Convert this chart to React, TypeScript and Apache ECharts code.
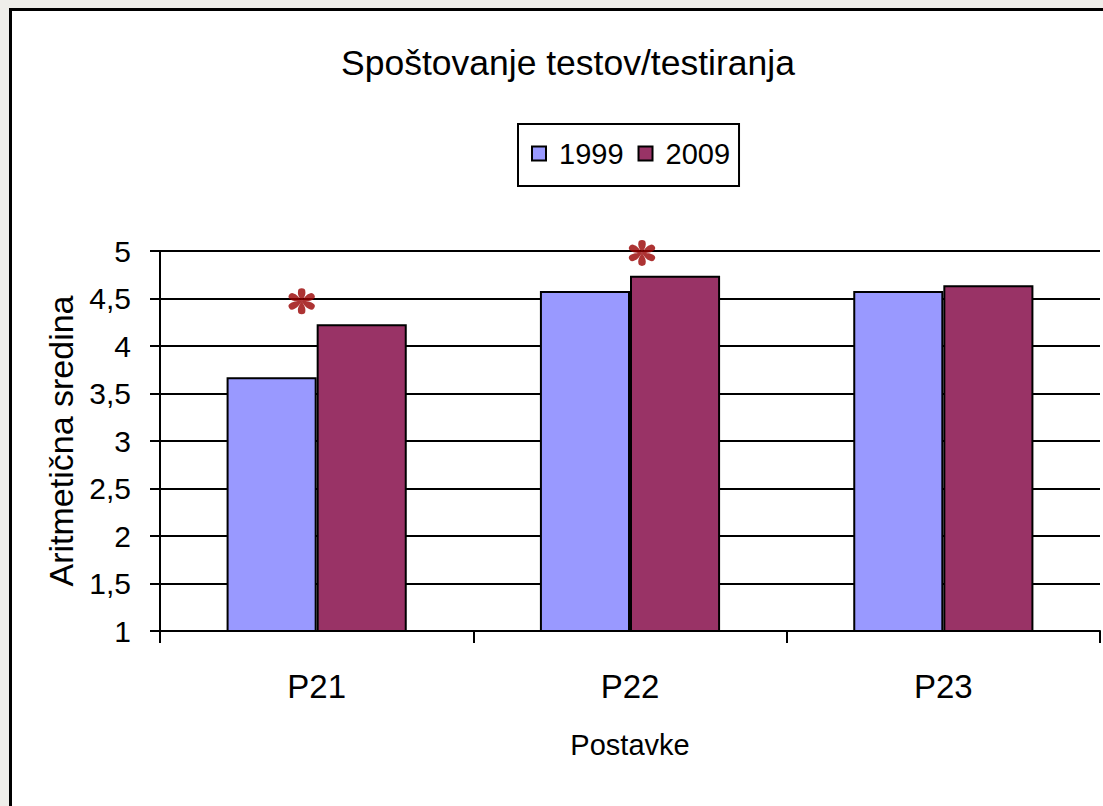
import React, { useEffect, useRef } from "react";
import * as echarts from "echarts";

const categories = ["P21", "P22", "P23"];
const series1999 = [3.67, 4.58, 4.58];
const series2009 = [4.23, 4.74, 4.64];
const seriesNames = ["1999", "2009"];
const yTicksMin = 1;
const yTicksMax = 5;
const yTickStep = 0.5;
// significance markers (asterisks) above P21 and P22
const starCategories = ["P21", "P22"];
const starValues = [4.47, 4.98];

const FONT = "'Liberation Sans', Arial, sans-serif";

function asteriskPath(): string {
  // six teardrop petals around a centre (50,50)
  let d = "";
  for (let k = 0; k < 6; k++) {
    const a = (k * Math.PI) / 3;
    const c = Math.cos(a);
    const s = Math.sin(a);
    const tr = (x: number, y: number) =>
      `${(50 + x * c - y * s).toFixed(2)},${(50 + x * s + y * c).toFixed(2)}`;
    d += `M${tr(0, 0)} C${tr(-4, -8)} ${tr(-13, -20)} ${tr(-11, -32)} A11,11 0 1 1 ${tr(11, -32)} C${tr(13, -20)} ${tr(4, -8)} ${tr(0, 0)} Z `;
  }
  return "path://" + d.trim();
}

export default function App() {
  const ref = useRef<HTMLDivElement>(null);
  useEffect(() => {
    if (!ref.current) return;
    const chart = echarts.init(ref.current, undefined, { renderer: "svg" });
    const starOffsets = [-15, 12];
    chart.setOption({
      animation: false,
      backgroundColor: "#efeeea",
      graphic: [
        {
          type: "rect",
          z: -10,
          shape: { x: 10.5, y: 9.5, width: 1200, height: 900 },
          style: { fill: "#ffffff", stroke: "#000000", lineWidth: 3 },
          silent: true,
        },
      ],
      title: {
        text: "Spoštovanje testov/testiranja",
        left: 336,
        top: 40,
        textStyle: { fontFamily: FONT, fontSize: 35.5, fontWeight: "normal", color: "#000" },
      },
      legend: {
        data: seriesNames,
        left: 518,
        top: 124,
        padding: [15, 9, 18, 13],
        borderColor: "#000",
        borderWidth: 2,
        itemGap: 14,
        itemWidth: 14,
        itemHeight: 14,
        icon: "rect",
        itemStyle: { borderColor: "#000", borderWidth: 2 },
        textStyle: { fontFamily: FONT, fontSize: 29, color: "#000", padding: [0, 0, 0, 8] },
      },
      grid: { left: 160, top: 251, right: 3, bottom: 175, containLabel: false },
      xAxis: {
        type: "category",
        data: categories,
        name: "Postavke",
        nameLocation: "middle",
        nameGap: 99,
        nameTextStyle: { fontFamily: FONT, fontSize: 29, color: "#000" },
        axisLine: { lineStyle: { color: "#000", width: 2 } },
        axisTick: { show: true, length: 12, lineStyle: { color: "#000", width: 2 } },
        axisLabel: { margin: 39, fontFamily: FONT, fontSize: 33, color: "#000" },
      },
      yAxis: {
        type: "value",
        min: yTicksMin,
        max: yTicksMax,
        interval: yTickStep,
        name: "Aritmetična sredina",
        nameLocation: "middle",
        nameGap: 82,
        nameTextStyle: { fontFamily: FONT, fontSize: 34, color: "#000" },
        axisLine: { show: true, lineStyle: { color: "#000", width: 2 } },
        axisTick: { show: true, length: 10, lineStyle: { color: "#000", width: 2 } },
        axisLabel: {
          margin: 29,
          fontFamily: FONT,
          fontSize: 30,
          color: "#000",
          formatter: (v: number) => String(v).replace(".", ","),
        },
        splitLine: { show: true, lineStyle: { color: "#000", width: 2 } },
      },
      series: [
        {
          name: seriesNames[0],
          type: "bar",
          data: series1999,
          barGap: "0%",
          barCategoryGap: "42.5%",
          itemStyle: { color: "#9999FF", borderColor: "#000", borderWidth: 2 },
        },
        {
          name: seriesNames[1],
          type: "bar",
          data: series2009,
          barGap: "0%",
          barCategoryGap: "42.5%",
          itemStyle: { color: "#993366", borderColor: "#000", borderWidth: 2 },
        },
        {
          name: "sig",
          type: "scatter",
          symbol: asteriskPath(),
          symbolSize: 26,
          itemStyle: { color: "#990000" },
          z: 5,
          data: starCategories.map((c, i) => ({
            value: [c, starValues[i]],
            symbolOffset: [starOffsets[i], 0],
          })),
        },
      ],
    });
    return () => chart.dispose();
  }, []);
  return (
    <div
      ref={ref}
      style={{ position: "absolute", left: 0, top: 0, width: 1103, height: 806 }}
    />
  );
}
